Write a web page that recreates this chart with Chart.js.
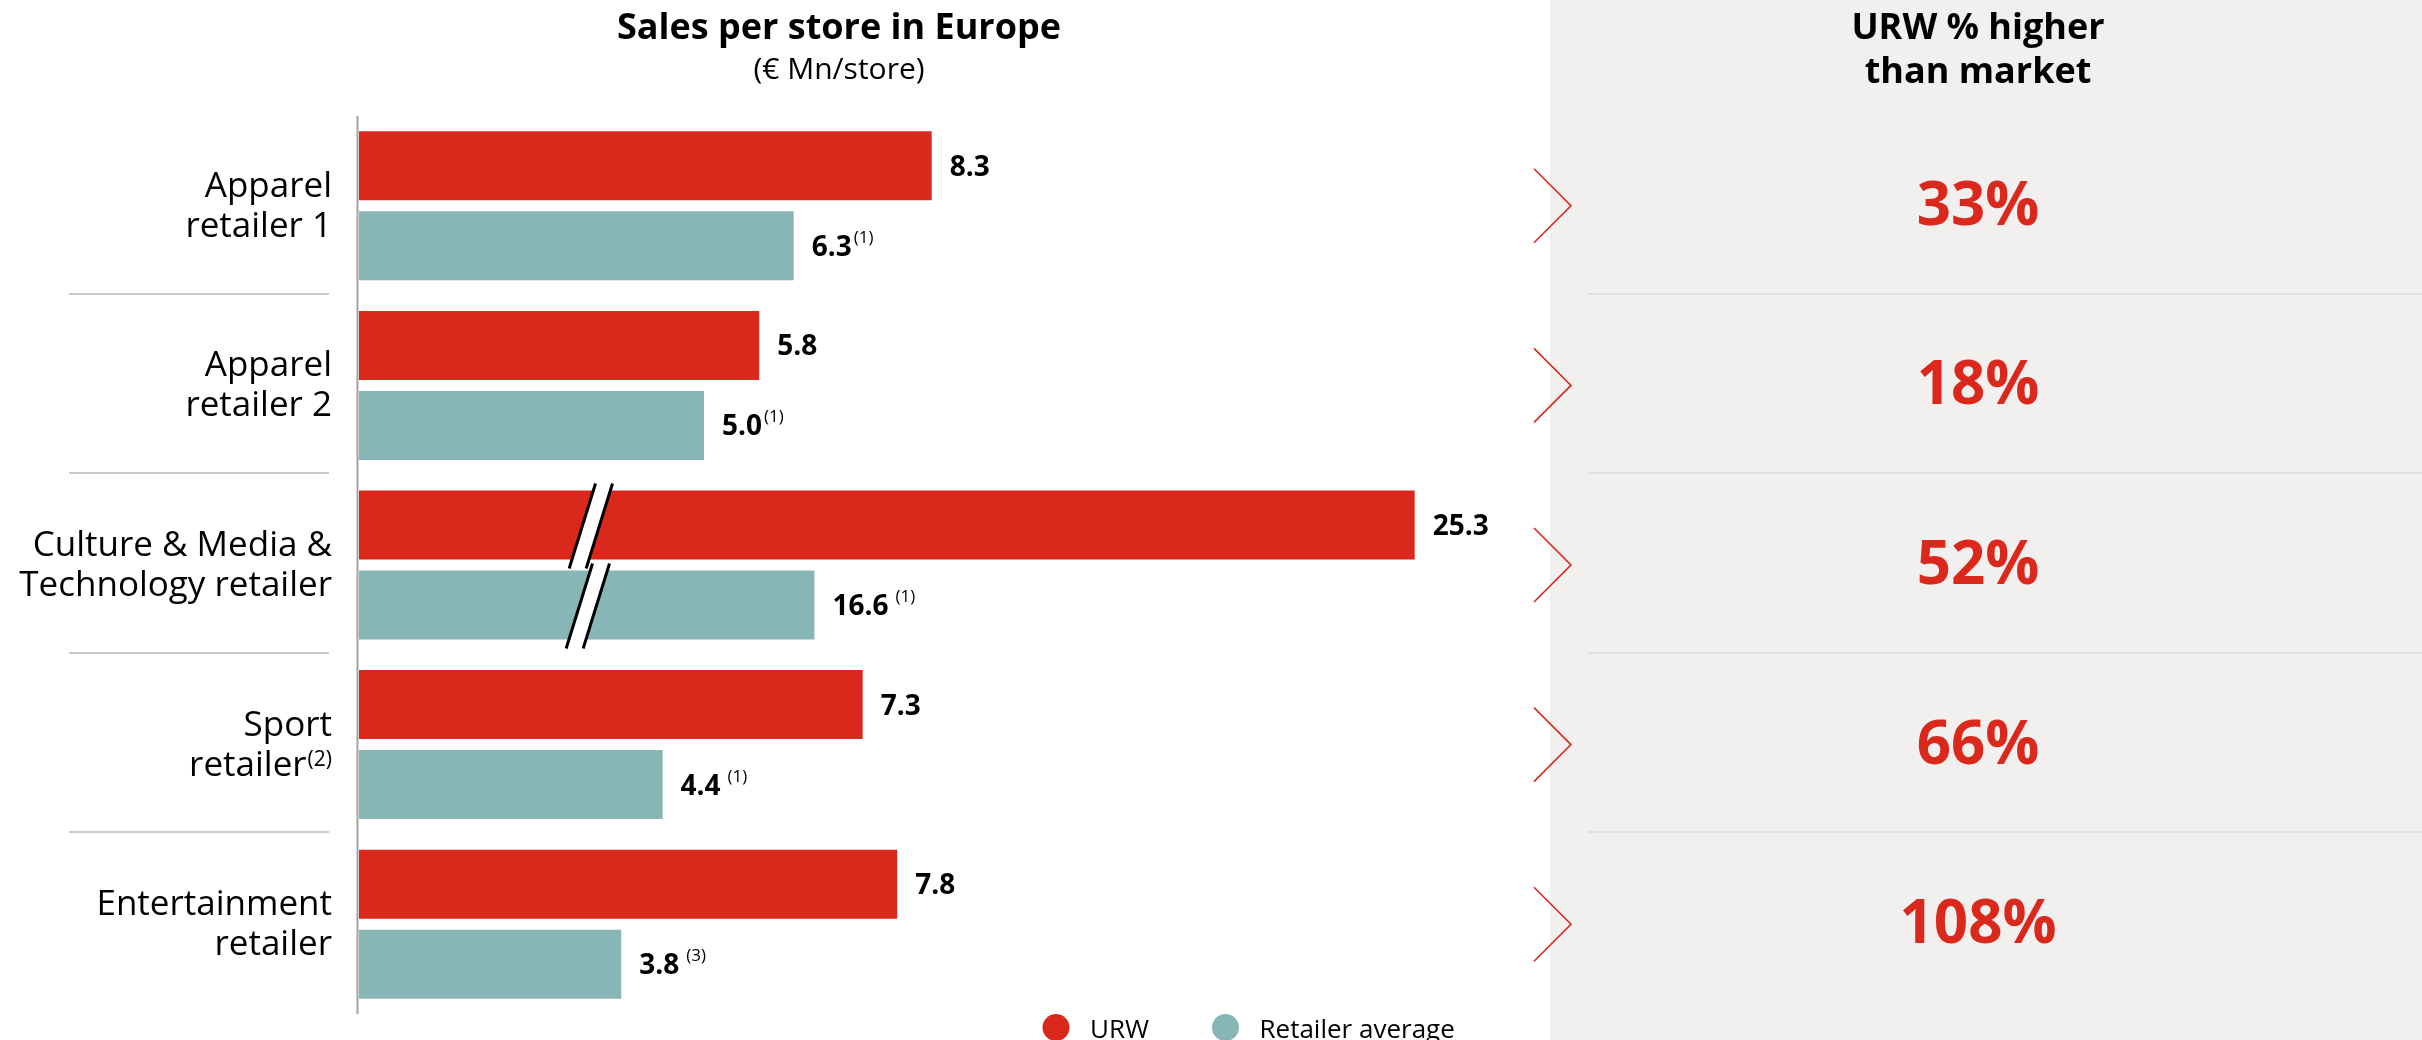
<!DOCTYPE html>
<html>
<head>
<meta charset="utf-8">
<script src="https://cdn.jsdelivr.net/npm/chart.js@4"></script>
<style>
html,body{margin:0;padding:0;background:#fff;overflow:hidden}
#wrap{width:2422px;height:1040px;position:relative}
</style>
</head>
<body>
<div id="wrap"><canvas id="c"></canvas></div>
<script>
// ---------- data ----------
const categories = [
  ["Apparel", "retailer 1"],
  ["Apparel", "retailer 2"],
  ["Culture & Media &", "Technology retailer"],
  ["Sport", "retailer"],
  ["Entertainment", "retailer"]
];
const categoryNotes = ["", "", "", "(2)", ""];
const seriesNames = ["URW", "Retailer average"];
const urwValues = [8.3, 5.8, 25.3, 7.3, 7.8];
const retailerValues = [6.3, 5.0, 16.6, 4.4, 3.8];
const urwNotes = ["", "", "", "", ""];
const retailerNotes = ["(1)", "(1)", "(1)", "(1)", "(3)"];
const higherPct = [33, 18, 52, 66, 108];
const brokenCategory = 2;   // category drawn with an axis break
const breakCut = 10;        // axis units removed by the break
const breakAt = 3.36;       // axis value where the break marks sit
const xMax = 16;
const titleText = "Sales per store in Europe";
const subtitleText = "(€ Mn/store)";
const panelTitle = ["URW % higher", "than market"];

// ---------- style ----------
const RED = '#DA291C', TEAL = '#88B5B5', PANEL = '#F1F0EF';
const FONT = '"Open Sans", "Noto Sans", "DejaVu Sans", sans-serif';

const plotted = arr => arr.map((v, i) => i === brokenCategory ? v - breakCut : v);

const overlay = {
  id: 'overlay',
  beforeDraw(chart) {
    const {ctx, width, height} = chart;
    ctx.save();
    ctx.fillStyle = '#fff'; ctx.fillRect(0, 0, width, height);
    ctx.fillStyle = PANEL; ctx.fillRect(1550, 0, width - 1550, height);
    ctx.restore();
  },
  afterDatasetsDraw(chart) {
    const {ctx, chartArea: ca, scales: {x, y}} = chart;
    const n = chart.data.labels.length;
    ctx.save();

    // axis line
    ctx.strokeStyle = '#A5A19D'; ctx.lineWidth = 2;
    ctx.beginPath(); ctx.moveTo(ca.left - 1.5, ca.top); ctx.lineTo(ca.left - 1.5, ca.bottom); ctx.stroke();

    // separators
    for (let i = 0; i < n - 1; i++) {
      const yy = Math.round((y.getPixelForValue(i) + y.getPixelForValue(i + 1)) / 2) - 2;
      ctx.strokeStyle = '#CCC8C4'; ctx.lineWidth = 2;
      ctx.beginPath(); ctx.moveTo(69, yy); ctx.lineTo(329, yy); ctx.stroke();
      ctx.strokeStyle = '#E2E0DE';
      ctx.beginPath(); ctx.moveTo(1588, yy); ctx.lineTo(chart.width, yy); ctx.stroke();
    }

    // break marks
    chart.data.datasets.forEach((ds, di) => {
      const bar = chart.getDatasetMeta(di).data[brokenCategory];
      const p = bar.getProps(['x', 'y', 'height'], true);
      const top = p.y - p.height / 2 - 7, bot = p.y + p.height / 2 + 9;
      const cx = x.getPixelForValue(breakAt) - di * 3;
      const h = bot - top, s = 0.31, g = 17;
      const xt = cx + s * h / 2, xb = cx - s * h / 2;
      ctx.fillStyle = '#fff';
      ctx.beginPath();
      ctx.moveTo(xt - g / 2, top); ctx.lineTo(xt + g / 2, top);
      ctx.lineTo(xb + g / 2, bot); ctx.lineTo(xb - g / 2, bot);
      ctx.closePath(); ctx.fill();
      ctx.strokeStyle = '#000'; ctx.lineWidth = 3;
      ctx.beginPath();
      ctx.moveTo(xt - g / 2, top); ctx.lineTo(xb - g / 2, bot);
      ctx.moveTo(xt + g / 2, top); ctx.lineTo(xb + g / 2, bot);
      ctx.stroke();
    });

    // value labels
    chart.data.datasets.forEach((ds, di) => {
      const meta = chart.getDatasetMeta(di);
      meta.data.forEach((bar, i) => {
        const p = bar.getProps(['x', 'y'], true);
        const txt = ds.rawValues[i].toFixed(1);
        ctx.fillStyle = '#000'; ctx.textAlign = 'left'; ctx.textBaseline = 'alphabetic';
        ctx.font = `bold 28px ${FONT}`;
        const tx = p.x + 18, by = p.y + 10;
        ctx.fillText(txt, tx, by);
        const note = ds.notes[i];
        if (note) {
          const w = ctx.measureText(txt).width;
          ctx.font = `17px ${FONT}`;
          ctx.fillText(note, tx + w + (i < 2 ? 2 : 7), by - 13);
        }
      });
    });

    // category labels
    chart.data.labels.forEach((lab, i) => {
      const c = y.getPixelForValue(i);
      const lines = lab;
      ctx.fillStyle = '#000'; ctx.textBaseline = 'alphabetic';
      lines.forEach((ln, li) => {
        const by = c - 9 + li * 40;
        let right = 332;
        if (li === lines.length - 1 && categoryNotes[i]) {
          ctx.font = `21px ${FONT}`; ctx.textAlign = 'right';
          ctx.fillText(categoryNotes[i], right, by - 10);
          right -= ctx.measureText(categoryNotes[i]).width + 1;
        }
        ctx.font = `35px ${FONT}`; ctx.textAlign = 'right';
        ctx.fillText(ln, right, by);
      });

      // chevron
      ctx.strokeStyle = RED; ctx.lineWidth = 1.6;
      ctx.beginPath(); ctx.moveTo(1534, c - 37); ctx.lineTo(1571, c); ctx.lineTo(1534, c + 37); ctx.stroke();

      // percentage
      ctx.fillStyle = RED; ctx.textAlign = 'center';
      ctx.font = `bold 60px ${FONT}`;
      ctx.fillText(higherPct[i] + '%', 1978, c + 19);
    });

    // titles
    ctx.fillStyle = '#000'; ctx.textAlign = 'center'; ctx.textBaseline = 'alphabetic';
    ctx.font = `bold 36px ${FONT}`;
    ctx.fillText(titleText, 839, 39);
    ctx.font = `30px ${FONT}`;
    ctx.fillText(subtitleText, 839, 79);
    ctx.font = `bold 36px ${FONT}`;
    ctx.fillText(panelTitle[0], 1978, 39);
    ctx.fillText(panelTitle[1], 1978, 83);

    // legend
    let cx = 1056;
    ctx.textAlign = 'left'; ctx.font = `26px ${FONT}`;
    chart.data.datasets.forEach(ds => {
      ctx.fillStyle = ds.backgroundColor;
      ctx.beginPath(); ctx.arc(cx, 1027.5, 13.5, 0, Math.PI * 2); ctx.fill();
      ctx.fillStyle = '#000';
      ctx.fillText(ds.label, cx + 34, 1038);
      cx = cx + 34 + ctx.measureText(ds.label).width + 63 + 13.5;
    });
    ctx.restore();
  }
};

const chart = new Chart(document.getElementById('c'), {
  type: 'bar',
  data: {
    labels: categories,
    datasets: [
      {label: seriesNames[0], data: plotted(urwValues), rawValues: urwValues, notes: urwNotes,
       backgroundColor: RED, borderWidth: 0},
      {label: seriesNames[1], data: plotted(retailerValues), rawValues: retailerValues, notes: retailerNotes,
       backgroundColor: TEAL, borderWidth: 0}
    ]
  },
  options: {
    indexAxis: 'y',
    responsive: true,
    maintainAspectRatio: false,
    animation: false,
    layout: {padding: {left: 359, right: 2422 - (359 + 69 * xMax), top: 116, bottom: 26}},
    datasets: {bar: {categoryPercentage: 0.891, barPercentage: 0.8625}},
    scales: {
      x: {display: false, min: 0, max: xMax},
      y: {display: false}
    },
    plugins: {legend: {display: false}, tooltip: {enabled: false}}
  },
  plugins: [overlay]
});

if (document.fonts) {
  Promise.all([
    document.fonts.load(`bold 36px "Open Sans"`),
    document.fonts.load(`35px "Open Sans"`)
  ]).then(() => chart.update()).catch(() => {});
}
</script>
</body>
</html>
